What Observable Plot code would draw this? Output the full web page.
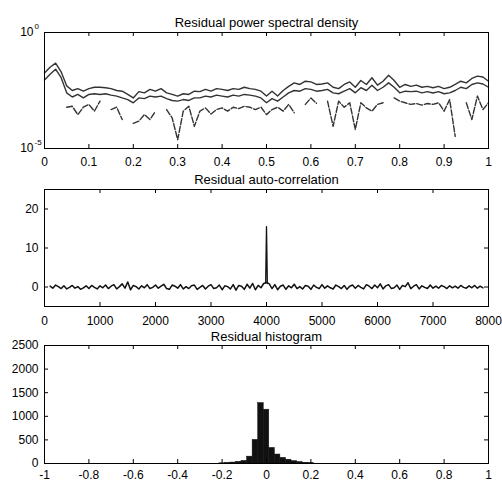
<!DOCTYPE html>
<html><head><meta charset="utf-8">
<script src="https://cdn.jsdelivr.net/npm/d3@7"></script>
<script src="https://cdn.jsdelivr.net/npm/@observablehq/plot@0.6"></script>
<style>
body{margin:0;background:#fff;}
#fig{position:relative;width:502px;height:483px;}
#fig svg{position:absolute;left:0;}
</style></head><body><div id="fig"></div>
<script>
// ---------- titles ----------
const titles = ["Residual power spectral density", "Residual auto-correlation", "Residual histogram"];

// ---------- panel 1: PSD (log10 values), freq grid 0..1 step 0.0125 ----------
const psdFreqStart = 0, psdFreqStep = 0.0125;
const psdUpper = [-1.75,-1.5,-1.32,-1.7,-2.3,-2.5,-2.42,-2.53,-2.42,-2.36,
 -2.36,-2.38,-2.42,-2.5,-2.53,-2.67,-2.82,-2.55,-2.6,-2.45,
 -2.53,-2.42,-2.6,-2.67,-2.74,-2.64,-2.67,-2.53,-2.55,-2.45,
 -2.53,-2.42,-2.45,-2.5,-2.42,-2.45,-2.36,-2.42,-2.45,-2.53,
 -2.74,-2.53,-2.74,-2.5,-2.32,-2.17,-2.24,-2.1,-2.13,-2.24,
 -2.22,-2.17,-2.36,-2.42,-2.24,-2.13,-2.36,-2.07,-2.24,-1.95,
 -2.27,-2.1,-1.84,-2.07,-2.36,-2.24,-2.32,-2.27,-2.36,-2.32,
 -2.38,-2.32,-2.42,-2.36,-2.24,-2.1,-2.17,-1.98,-1.88,-1.92,
 -2.1];
const psdLower = [-2.05,-1.8,-1.58,-1.95,-2.6,-2.78,-2.67,-2.82,-2.67,-2.64,
 -2.67,-2.64,-2.7,-2.74,-2.82,-2.89,-3.03,-2.82,-2.85,-2.74,
 -2.78,-2.74,-2.85,-2.93,-2.96,-2.89,-2.93,-2.82,-2.82,-2.74,
 -2.78,-2.7,-2.74,-2.78,-2.7,-2.74,-2.67,-2.7,-2.74,-2.82,
 -3.03,-2.85,-2.96,-2.78,-2.6,-2.5,-2.53,-2.42,-2.45,-2.53,
 -2.5,-2.45,-2.6,-2.64,-2.53,-2.42,-2.6,-2.38,-2.5,-2.27,
 -2.5,-2.36,-2.17,-2.36,-2.6,-2.53,-2.55,-2.53,-2.6,-2.55,
 -2.61,-2.55,-2.64,-2.6,-2.5,-2.36,-2.42,-2.24,-2.17,-2.22,
 -2.36];
const psdDashed = [null,null,null,null,-3.22,-3.18,-3.54,-3.22,-3.1,-3.39,
 -2.96,null,-3.32,-3.22,-3.75,null,-3.92,-3.82,-3.54,-3.75,
 -3.39,null,-3.32,-3.68,-4.62,-3.39,-3.18,-4.04,-3.39,-3.25,
 -3.51,-3.32,-3.25,-3.39,-3.22,-3.28,-3.18,-3.22,-3.32,-3.22,
 -3.54,-3.32,-3.22,-3.39,-3.1,-3.46,null,-3.1,-2.82,-3.05,
 null,-2.96,-4.04,-2.96,-3.22,-3.03,-4.18,-3.03,-3.25,-3.39,
 -3.1,-3.03,null,-2.82,-2.96,-3.03,-3.1,-3.06,-3.13,-3.06,
 -3.1,-3.03,-3.39,-2.89,-4.48,null,-3.03,-3.75,-2.74,-3.32,
 -3.03];
const psdXTicks = [0,0.1,0.2,0.3,0.4,0.5,0.6,0.7,0.8,0.9,1];
const psdYTicks = [1, 1e-5];
const psdYExp = ["0", "-5"];

// ---------- panel 2: auto-correlation, lag grid 100..7900 step 50 ----------
const acfLagStart = 100, acfLagStep = 50;
const acfValues = [
 0.2,-0.3,0.5,0.1,-0.4,0.3,-0.5,-0.1,0.4,-0.3,
 0.1,-0.6,-0.2,0.3,-0.4,0.4,-0.1,-0.5,0.3,-0.2,
 0.5,-0.4,0.2,0.6,-0.5,0.1,0.8,-0.3,1.3,-0.7,
 0.4,0.1,-0.5,0.3,-0.2,0.6,-0.4,-0.1,0.5,-0.3,
 0.2,0.7,-0.4,-0.6,0.5,0.2,-0.3,0.6,-0.5,0.1,
 -0.4,0.3,0.5,-0.6,-0.1,0.4,-0.5,0.2,0.6,-0.4,
 -0.2,0.5,-0.7,0.3,0.1,-0.5,0.6,-0.8,0.4,0.2,
 -0.6,0.7,-0.3,0.9,-0.7,0.4,-0.2,0.9,1.2,0.8,
 -0.4,0.6,-0.7,0.2,0.5,-0.6,0.3,-0.2,0.7,-0.4,
 0.1,-0.5,0.4,0.2,-0.6,0.5,-0.1,-0.4,0.6,-0.3,
 0.3,-0.2,-0.5,0.5,0.1,-0.4,0.4,-0.6,0.2,0.5,
 -0.3,0.4,-0.1,-0.5,0.6,0.2,-0.4,0.5,-0.2,0.8,
 -0.5,0.3,0.6,-0.4,-0.2,0.5,-0.6,0.4,0.1,1.1,
 -0.4,0.2,0.6,-0.5,0.3,-0.1,-0.4,0.5,-0.3,0.2,
 -0.3,0.4,0.1,-0.4,0.3,-0.2,0.2,-0.3,0.4,-0.1,
 -0.3,0.3,-0.2,0.4,-0.3,0.2,-0.2];
// the narrow peak at zero lag (lag 4000)
const spikeLags = [3985, 4000, 4015];
const spikeValues = [1.0, 15.5, 0.9];
const acfXTicks = [0,1000,2000,3000,4000,5000,6000,7000,8000];
const acfYTicks = [0,10,20];

// ---------- panel 3: histogram ----------
const histBinWidth = 0.025;
const histCenters = [-0.2,-0.175,-0.15,-0.125,-0.1,-0.075,-0.05,-0.025,0,0.025,0.05,0.075,0.1,0.125,0.15,0.175,0.2];
const histCounts  = [4,10,20,35,55,145,500,1280,1140,330,190,120,80,50,30,15,6];
const histXTicks = [-1,-0.8,-0.6,-0.4,-0.2,0,0.2,0.4,0.6,0.8,1];
const histYTicks = [0,500,1000,1500,2000,2500];

// ---------- build ----------
const W = 502, ML = 44, MR = 14, TICK = 4;
const font = "'Liberation Sans', Arial, Helvetica, sans-serif";
const base = {width: W, marginLeft: ML, marginRight: MR,
  style: {background: "transparent", fontFamily: font, fontSize: "12px", color: "#000", overflow: "visible"}};
const innerW = W - ML - MR;

function inwardTicks(xTicks, yTicks, innerH) {
  const xi = xTicks.slice(1, -1), yi = yTicks;
  return [
    Plot.tickX(xi, {x: d => d, insetTop: innerH - TICK, stroke: "#000"}),
    Plot.tickX(xi, {x: d => d, insetBottom: innerH - TICK, stroke: "#000"}),
    Plot.tickY(yi, {y: d => d, insetRight: innerW - TICK, stroke: "#000"}),
    Plot.tickY(yi, {y: d => d, insetLeft: innerW - TICK, stroke: "#000"})
  ];
}
function titleMark(t, dy) {
  return Plot.text([t], {text: d => d, frameAnchor: "top", dy, fontSize: 13, fill: "#000"});
}

const psd = psdUpper.map((u, i) => ({
  f: psdFreqStart + i * psdFreqStep,
  a: 10 ** u, b: 10 ** psdLower[i],
  c: psdDashed[i] == null ? null : 10 ** psdDashed[i]
}));

const h1 = 172, mt1 = 32, mb1 = 24;
const p1 = Plot.plot({...base, height: h1, marginTop: mt1, marginBottom: mb1,
  x: {domain: [0, 1]}, y: {type: "log", domain: [1e-5, 1]},
  marks: [
    Plot.line(psd, {x: "f", y: "a", stroke: "#333", strokeWidth: 1.4}),
    Plot.line(psd, {x: "f", y: "b", stroke: "#333", strokeWidth: 1.4}),
    Plot.line(psd, {x: "f", y: "c", stroke: "#333", strokeWidth: 1.4, strokeDasharray: "6,2"}),
    ...inwardTicks(psdXTicks, [], h1 - mt1 - mb1),
    Plot.frame({stroke: "#000"}),
    Plot.axisX(psdXTicks, {tickSize: 0, tickPadding: 9, label: null, tickFormat: d => String(d)}),
    Plot.axisY(psdYTicks, {tickSize: 0, tickPadding: 11, label: null, tickFormat: () => "10"}),
    Plot.text(psdYTicks, {y: d => d, text: (d, i) => psdYExp[i], frameAnchor: "left", dx: -10, dy: -6, textAnchor: "start", fontSize: 8}),
    titleMark(titles[0], -15)
  ]});

const acf = acfValues.map((v, i) => ({lag: acfLagStart + i * acfLagStep, v}));
const spike = spikeLags.map((lag, i) => ({lag, v: spikeValues[i]}));
const h2 = 170, mt2 = 29, mb2 = 24;
const p2 = Plot.plot({...base, height: h2, marginTop: mt2, marginBottom: mb2,
  x: {domain: [0, 8000]}, y: {domain: [-5, 25]},
  marks: [
    Plot.line(acf, {x: "lag", y: "v", stroke: "#111", strokeWidth: 1.5}),
    Plot.line(spike, {x: "lag", y: "v", stroke: "#111", strokeWidth: 1.3}),
    ...inwardTicks(acfXTicks, acfYTicks, h2 - mt2 - mb2),
    Plot.frame({stroke: "#000"}),
    Plot.axisX(acfXTicks, {tickSize: 0, tickPadding: 10, label: null, tickFormat: d => String(d)}),
    Plot.axisY(acfYTicks, {tickSize: 0, tickPadding: 6, label: null, tickFormat: d => String(d)}),
    titleMark(titles[1], -15)
  ]});

const hist = histCenters.map((c, i) => ({x1: c - histBinWidth / 2, x2: c + histBinWidth / 2, n: histCounts[i]}));
const h3 = 173, mt3 = 35, mb3 = 20;
const p3 = Plot.plot({...base, height: h3, marginTop: mt3, marginBottom: mb3,
  x: {domain: [-1, 1]}, y: {domain: [0, 2500]},
  marks: [
    Plot.rectY(hist, {x1: "x1", x2: "x2", y: "n", fill: "#111", stroke: "#111", strokeWidth: 0.5}),
    Plot.ruleY([0], {stroke: "#000"}),
    ...inwardTicks(histXTicks, histYTicks.slice(1, -1), h3 - mt3 - mb3),
    Plot.frame({stroke: "#000"}),
    Plot.axisX(histXTicks, {tickSize: 0, tickPadding: 7, label: null, tickFormat: d => String(d)}),
    Plot.axisY(histYTicks, {tickSize: 0, tickPadding: 6, label: null, tickFormat: d => String(d)}),
    titleMark(titles[2], -14)
  ]});

const fig = document.getElementById("fig");
[[p1, 0], [p2, 160], [p3, 310]].forEach(([svg, top]) => {
  svg.style.top = top + "px";
  fig.appendChild(svg);
});
</script></body></html>
